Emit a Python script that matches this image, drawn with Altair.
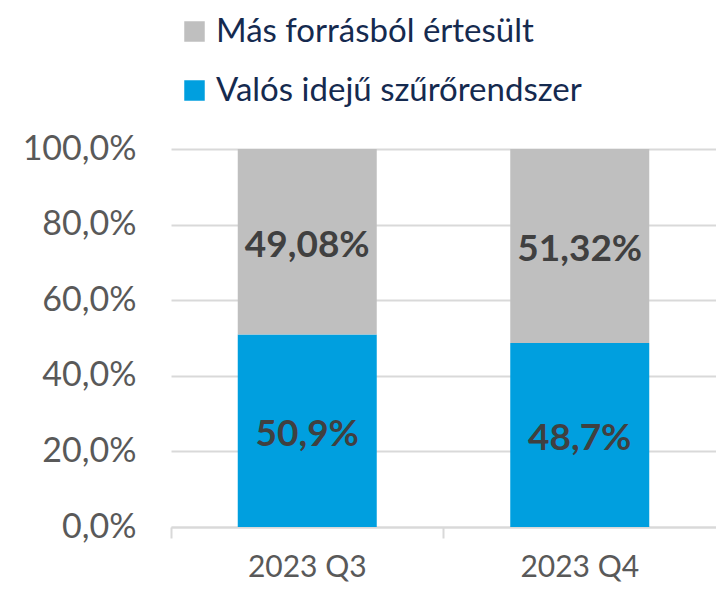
import altair as alt
import pandas as pd

quarters = ["2023 Q3", "2023 Q4"]
series = ["Más forrásból értesült", "Valós idejű szűrőrendszer"]
mas_values = [49.08, 51.32]
valos_values = [50.9, 48.7]
mas_labels = ["49,08%", "51,32%"]
valos_labels = ["50,9%", "48,7%"]
colors = ["#BFBFBF", "#009FDF"]

rows = []
for i, q in enumerate(quarters):
    rows.append({"q": q, "s": series[1], "v": valos_values[i], "lbl": valos_labels[i], "ord": 0})
    rows.append({"q": q, "s": series[0], "v": mas_values[i], "lbl": mas_labels[i], "ord": 1})
df = pd.DataFrame(rows)

FONT = "Lato"

xscale = alt.Scale(paddingInner=0, paddingOuter=0)
yscale = alt.Scale(domain=[0, 1])

yaxis = alt.Axis(values=[0, 0.2, 0.4, 0.6, 0.8, 1.0],
                 labelExpr="replace(format(datum.value*100, '.1f'), '.', ',') + '%'",
                 labelFontSize=34, labelColor="#595959", labelFont=FONT,
                 labelPadding=35, ticks=False, domain=False,
                 grid=True, gridColor="#d9d9d9", gridWidth=2)

base = alt.Chart(df)

bars = base.mark_bar(size=139).encode(
    x=alt.X("q:N", scale=xscale, sort=quarters, title=None,
            axis=alt.Axis(labelAngle=0, labelFontSize=30, labelColor="#595959", labelFont=FONT,
                          labelPadding=25, ticks=False, domainColor="#d9d9d9", domainWidth=2,
                          grid=False)),
    y=alt.Y("v:Q", stack="normalize", scale=yscale, title=None, axis=yaxis),
    color=alt.Color("s:N", scale=alt.Scale(domain=series, range=colors), title=None,
                    legend=alt.Legend(orient="none", legendX=7, legendY=-134,
                                      symbolType="square", symbolSize=420, symbolStrokeWidth=0,
                                      labelFontSize=33, labelFont=FONT, labelColor="#152a4f",
                                      rowPadding=25, labelOffset=5, padding=0,
                                      labelLimit=600)),
    order=alt.Order("ord:Q", sort="ascending"),
)

text = base.transform_stack(
    stack="v", groupby=["q"], as_=["y0", "y1"], offset="normalize",
    sort=[alt.SortField("ord", order="ascending")],
).transform_calculate(
    mid="(datum.y0 + datum.y1) / 2"
).mark_text(fontSize=37, fontWeight="bold", font=FONT, color="#404040", dy=4).encode(
    x=alt.X("q:N", scale=xscale, sort=quarters, title=None,
            axis=alt.Axis(orient="bottom", labels=False, ticks=True, tickSize=11,
                          tickColor="#d9d9d9", tickWidth=2, bandPosition=0,
                          domain=False, grid=False)),
    y=alt.Y("mid:Q", scale=yscale, title=None, axis=yaxis),
    text="lbl:N",
)

chart = alt.layer(bars, text).resolve_axis(x="independent").properties(
    width=545, height=378,
    autosize=alt.AutoSizeParams(type="none"),
    padding={"left": 163, "top": 141, "right": 0, "bottom": 56},
).configure(font=FONT).configure_view(stroke=None)

chart.save("out.html", embed_options={"renderer": "svg", "actions": False})
